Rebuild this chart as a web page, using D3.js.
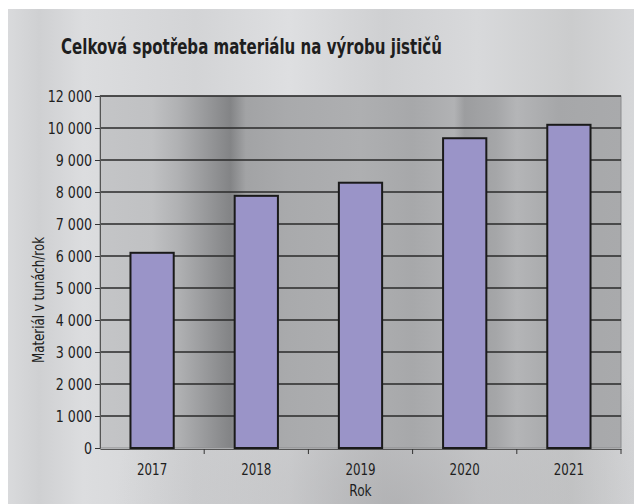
<!DOCTYPE html>
<html>
<head>
<meta charset="utf-8">
<script src="https://d3js.org/d3.v7.min.js"></script>
<style>
  body { margin: 0; background: #fff; }
  text { font-family: "DejaVu Sans Condensed", "Liberation Sans Narrow", sans-serif; fill: #1e1e1e; }
</style>
</head>
<body>
<div id="chart"></div>
<script>
// data
const years = ['2017', '2018', '2019', '2020', '2021'];
const material = [6100, 7880, 8290, 9680, 10100];
const yTickValues = [0, 1000, 2000, 3000, 4000, 5000, 6000, 7000, 8000, 9000, 10000, 11000];
const yTickLabels = ['0', '1 000', '2 000', '3 000', '4 000', '5 000', '6 000', '7 000', '8 000', '9 000', '10 000', '12 000'];

const width = 641, height = 504;
const plot = { left: 100, right: 621, top: 96, bottom: 448 };

const svg = d3.select('#chart').append('svg')
  .attr('width', width).attr('height', height)
  .attr('xmlns', 'http://www.w3.org/2000/svg');

const defs = svg.append('defs');

// squeeze text horizontally, the original uses a condensed face
function condense(sel, k) {
  sel.each(function () {
    const w = this.getComputedTextLength();
    d3.select(this).attr('textLength', w * k).attr('lengthAdjust', 'spacingAndGlyphs');
  });
}

// outer panel - brushed metal look
const panelGrad = defs.append('linearGradient').attr('id', 'panelGrad')
  .attr('x1', 0).attr('x2', 1).attr('y1', 0).attr('y2', 0);
[[0, '#d9dadc'], [0.05, '#cfd0d2'], [0.12, '#dcdddf'], [0.3, '#d3d4d6'], [0.45, '#dedfe1'],
 [0.6, '#cfd0d2'], [0.75, '#d8d9db'], [0.9, '#cbcccd'], [1, '#d6d7d9']]
  .forEach(([o, c]) => panelGrad.append('stop').attr('offset', o).attr('stop-color', c));

const panelShade = defs.append('radialGradient').attr('id', 'panelShade')
  .attr('cx', 0.62).attr('cy', 1.0).attr('r', 0.45);
panelShade.append('stop').attr('offset', 0).attr('stop-color', '#9a9a9c').attr('stop-opacity', 0.55);
panelShade.append('stop').attr('offset', 1).attr('stop-color', '#9a9a9c').attr('stop-opacity', 0);

// plot area gradient
const plotGrad = defs.append('linearGradient').attr('id', 'plotGrad')
  .attr('gradientUnits', 'userSpaceOnUse')
  .attr('x1', plot.left).attr('x2', plot.right).attr('y1', 0).attr('y2', 0);
[[0, '#c4c5c7'], [0.1, '#c0c1c3'], [0.15, '#b0b1b3'], [0.21, '#959698'], [0.25, '#838486'],
 [0.28, '#a2a3a5'], [0.36, '#a9aaac'], [0.5, '#aeafb1'], [0.6, '#a7a8aa'], [0.68, '#b1b2b4'],
 [0.7, '#9c9d9f'], [0.76, '#a5a6a8'], [0.8, '#b4b5b7'], [0.88, '#a6a7a9'], [1, '#a9aaac']]
  .forEach(([o, c]) => plotGrad.append('stop').attr('offset', o).attr('stop-color', c));

svg.append('rect').attr('x', 8).attr('y', 9).attr('width', 626).attr('height', 495)
  .attr('fill', 'url(#panelGrad)');
svg.append('rect').attr('x', 8).attr('y', 9).attr('width', 626).attr('height', 495)
  .attr('fill', 'url(#panelShade)');

// scales
const x = d3.scaleBand().domain(years).range([plot.left, plot.right]).paddingInner(0.585).paddingOuter(0.2925);
const y = d3.scaleLinear().domain([0, 11000]).range([plot.bottom, plot.top]);

svg.append('rect')
  .attr('x', plot.left).attr('y', plot.top)
  .attr('width', plot.right - plot.left).attr('height', plot.bottom - plot.top)
  .attr('fill', 'url(#plotGrad)')
  .attr('stroke', '#8a8b8d').attr('stroke-width', 1);

// gridlines
svg.append('g')
  .selectAll('line').data(yTickValues.filter(d => d > 0)).join('line')
  .attr('x1', plot.left).attr('x2', plot.right)
  .attr('y1', d => y(d)).attr('y2', d => y(d))
  .attr('stroke', '#2a2a2a').attr('stroke-width', 1.3);

// bars
svg.append('g')
  .selectAll('rect').data(material).join('rect')
  .attr('x', (d, i) => x(years[i]))
  .attr('y', d => y(d))
  .attr('width', x.bandwidth())
  .attr('height', d => y(0) - y(d))
  .attr('fill', '#9a94c8')
  .attr('stroke', '#1a1a1a').attr('stroke-width', 2);

// y axis
const yAxis = d3.axisLeft(y).tickValues(yTickValues)
  .tickFormat((d, i) => yTickLabels[i]).tickSizeOuter(0).tickSize(5).tickPadding(3);
const gy = svg.append('g').attr('transform', `translate(${plot.left},0)`).call(yAxis);
gy.select('.domain').attr('stroke', '#555');
gy.selectAll('.tick line').attr('stroke', '#333');
gy.selectAll('text').style('font-size', '16px').attr('fill', '#1e1e1e').call(condense, 0.88);

// x axis with ticks between categories
const xAxis = d3.axisBottom(x).tickSize(0).tickSizeOuter(0).tickPadding(14);
const gx = svg.append('g').attr('transform', `translate(0,${plot.bottom + 1})`).call(xAxis);
gx.select('.domain').attr('stroke', '#555').attr('stroke-width', 1.2);
gx.selectAll('text').style('font-size', '16.5px').attr('fill', '#1e1e1e').call(condense, 0.8);
const step = x.step();
gx.selectAll('.sep').data(years).join('line')
  .attr('class', 'sep')
  .attr('x1', (d, i) => plot.left + step * (i + 1)).attr('x2', (d, i) => plot.left + step * (i + 1))
  .attr('y1', 0).attr('y2', 5)
  .attr('stroke', '#333');

// titles
svg.append('text')
  .attr('x', 61).attr('y', 54)
  .style('font-size', '21px').style('font-weight', 'bold')
  .text('Celková spotřeba materiálu na výrobu jističů')
  .attr('textLength', 381).attr('lengthAdjust', 'spacingAndGlyphs');

svg.append('text')
  .attr('transform', 'translate(44,300) rotate(-90)')
  .attr('text-anchor', 'middle')
  .style('font-size', '15.5px')
  .text('Materiál v tunách/rok')
  .attr('textLength', 126).attr('lengthAdjust', 'spacingAndGlyphs');

svg.append('text')
  .attr('x', (plot.left + plot.right) / 2).attr('y', 496)
  .attr('text-anchor', 'middle')
  .style('font-size', '16.5px')
  .text('Rok')
  .call(condense, 0.82);
</script>
</body>
</html>
